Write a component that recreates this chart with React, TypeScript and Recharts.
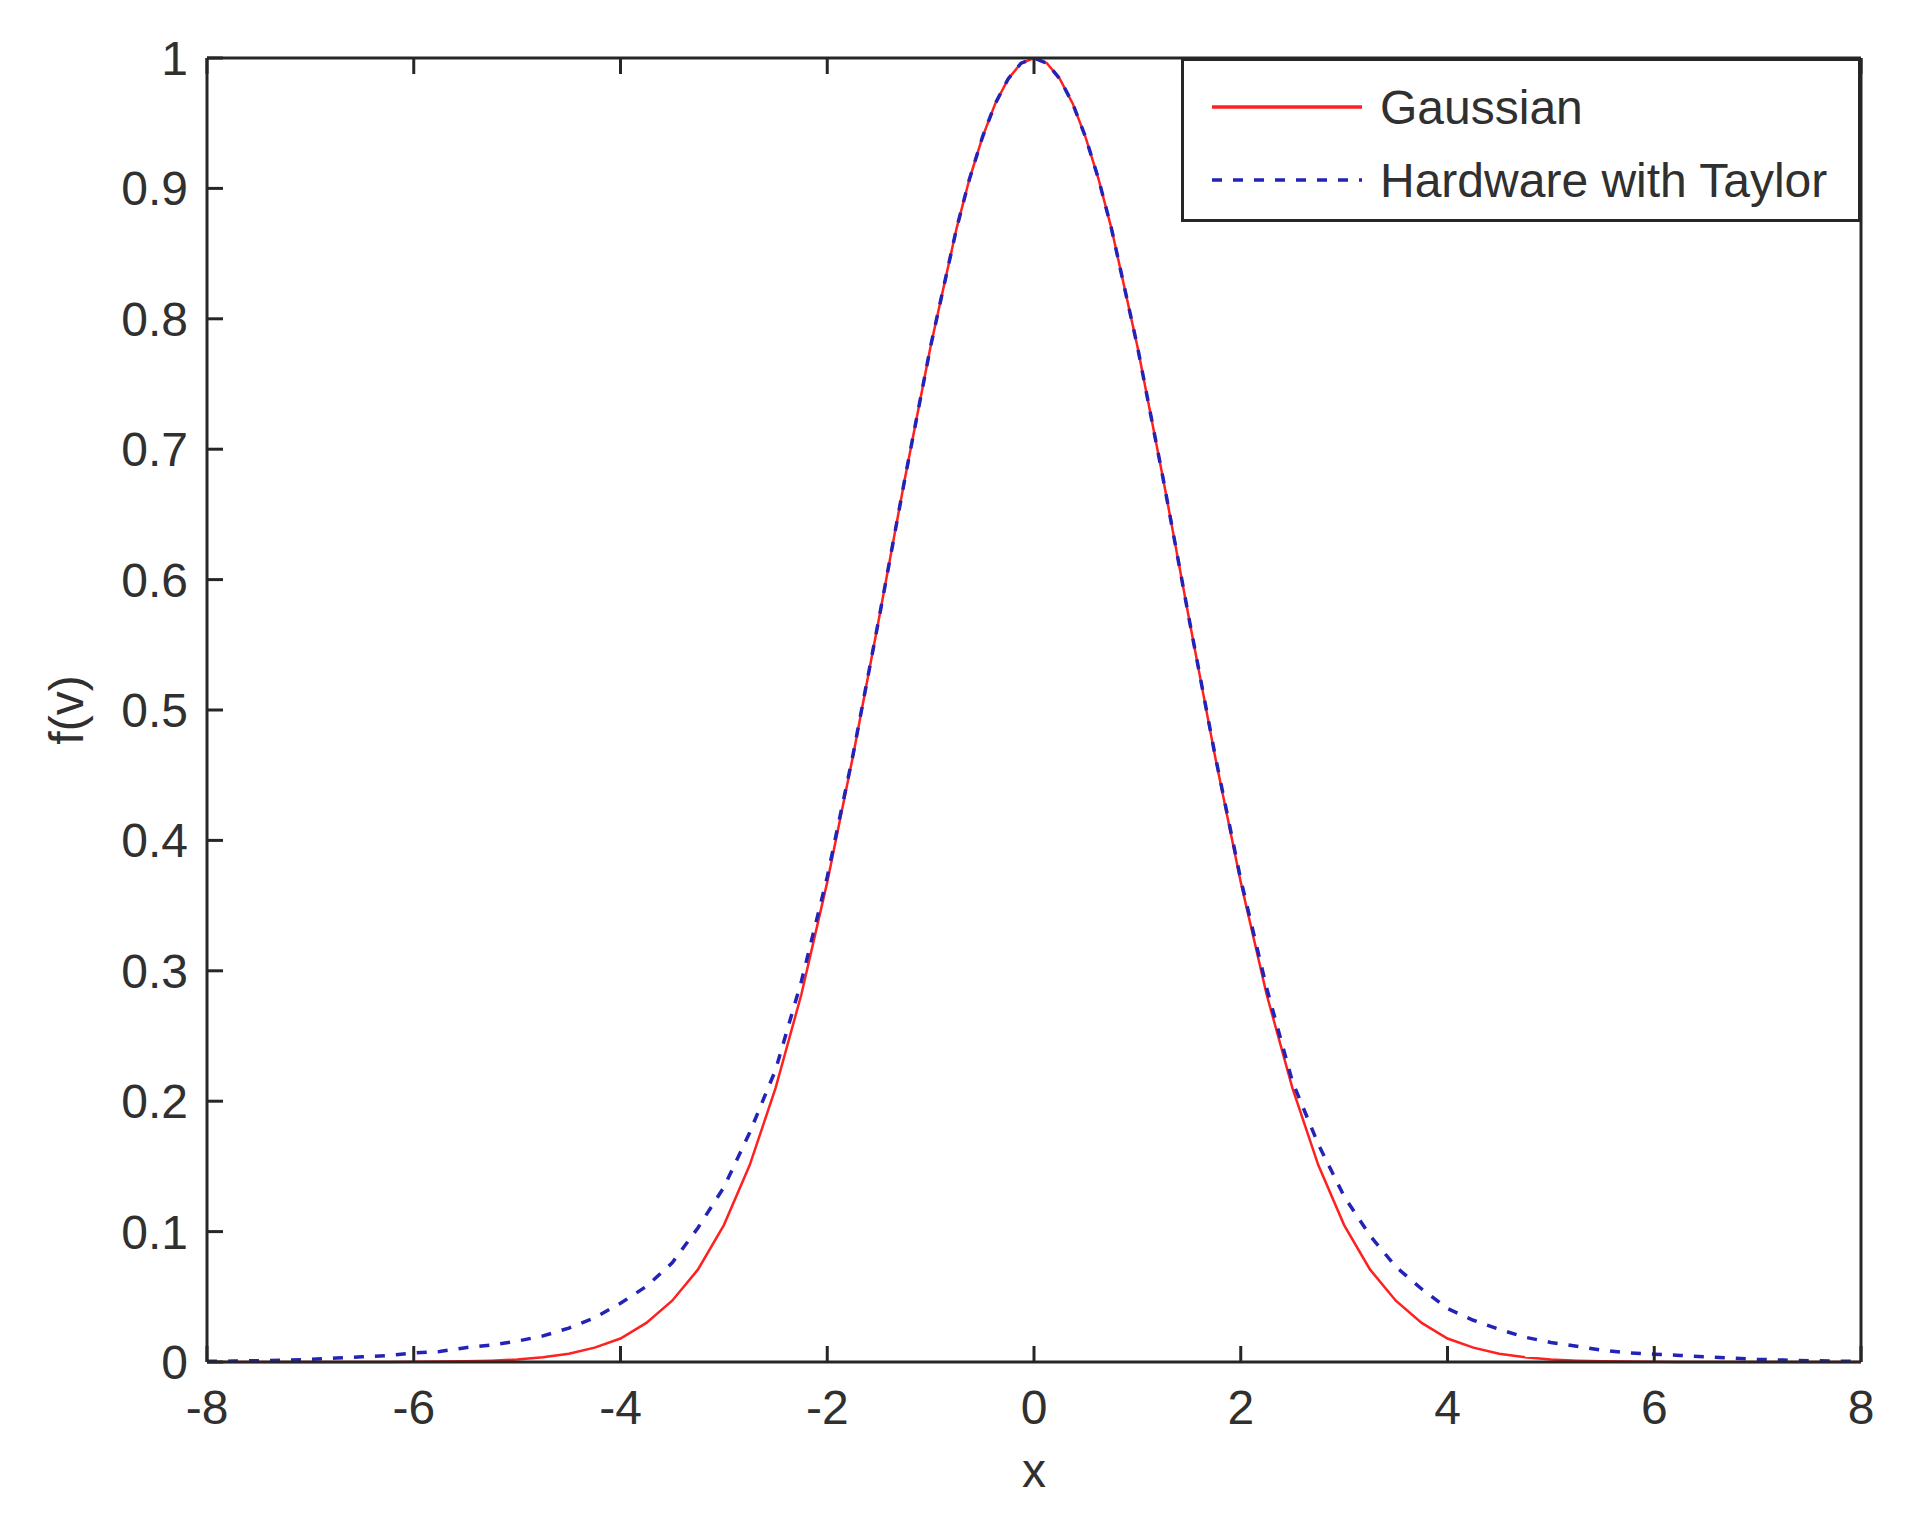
import { Legend, Line, LineChart, XAxis, YAxis } from "recharts";

const xs = [
  -8, -7.75, -7.5, -7.25, -7, -6.75, -6.5, -6.25, -6, -5.75, -5.5, -5.25, -5, -4.75, -4.5, -4.25,
  -4, -3.75, -3.5, -3.25, -3, -2.75, -2.5, -2.25, -2, -1.75, -1.5, -1.25, -1, -0.75, -0.625, -0.5,
  -0.375, -0.25, -0.125,
  0,
  0.125, 0.25, 0.375,
  0.5, 0.625, 0.75, 1, 1.25, 1.5, 1.75, 2, 2.25, 2.5, 2.75, 3, 3.25, 3.5, 3.75,
  4, 4.25, 4.5, 4.75, 5, 5.25, 5.5, 5.75, 6, 6.25, 6.5, 6.75, 7, 7.25, 7.5, 7.75, 8,
];

const gaussian = [
  0, 0, 0, 0, 0, 0, 0, 0, 0.0001, 0.0003, 0.0005, 0.001, 0.0019, 0.0036, 0.0063, 0.011,
  0.018, 0.03, 0.047, 0.071, 0.105, 0.151, 0.21, 0.282, 0.368, 0.465, 0.57, 0.677, 0.779, 0.869, 0.907, 0.939,
  0.965, 0.984, 0.996,
  1,
  0.996, 0.984, 0.965,
  0.939, 0.907, 0.869, 0.779, 0.677, 0.57, 0.465, 0.368, 0.282, 0.21, 0.151, 0.105, 0.071, 0.047, 0.03,
  0.018, 0.011, 0.0063, 0.0036, 0.0019, 0.001, 0.0005, 0.0003, 0.0001, 0, 0, 0, 0, 0, 0, 0, 0,
];

const taylor = [
  0.0005, 0.0007, 0.001, 0.0015, 0.002, 0.003, 0.004, 0.005, 0.007, 0.008, 0.011, 0.013, 0.016, 0.02, 0.026, 0.034,
  0.045, 0.058, 0.076, 0.103, 0.134, 0.176, 0.224, 0.292, 0.372, 0.466, 0.57, 0.677, 0.779, 0.869, 0.907, 0.939,
  0.965, 0.984, 0.996,
  1,
  0.996, 0.984, 0.965,
  0.939, 0.907, 0.869, 0.779, 0.677, 0.57, 0.466, 0.37, 0.287, 0.215, 0.167, 0.127, 0.097, 0.073, 0.056,
  0.041, 0.032, 0.025, 0.019, 0.015, 0.012, 0.009, 0.007, 0.006, 0.005, 0.004, 0.003, 0.002, 0.0015, 0.001, 0.0007, 0.0005,
];

const xTicks = [-8, -6, -4, -2, 0, 2, 4, 6, 8];
const yTicks = [0, 0.1, 0.2, 0.3, 0.4, 0.5, 0.6, 0.7, 0.8, 0.9, 1];

const rows = xs.map((x, i) => ({ x, gaussian: gaussian[i], taylor: taylor[i] }));

const FONT = '"Liberation Sans", Arial, sans-serif';
const AXIS = "#262626";
const TEXT = "#303030";
const RED = "#ff2020";
const BLUE = "#2323b8";
const TICK = 16;
const AXIS_W = 3;

function BottomTick({ x, y, payload }: any) {
  return (
    <g>
      <line x1={x} y1={y} x2={x} y2={y - TICK} stroke={AXIS} strokeWidth={AXIS_W} />
      <text x={x} y={y + 62} textAnchor="middle" fill={TEXT} fontSize={48} fontFamily={FONT}>
        {payload.value}
      </text>
    </g>
  );
}

function TopTick({ x, y }: any) {
  return <line x1={x} y1={y} x2={x} y2={y + TICK} stroke={AXIS} strokeWidth={AXIS_W} />;
}

function LeftTick({ x, y, payload }: any) {
  return (
    <g>
      <line x1={x} y1={y} x2={x + TICK} y2={y} stroke={AXIS} strokeWidth={AXIS_W} />
      <text x={x - 19} y={y + 17} textAnchor="end" fill={TEXT} fontSize={48} fontFamily={FONT}>
        {payload.value}
      </text>
    </g>
  );
}

function RightTick({ x, y }: any) {
  return <line x1={x} y1={y} x2={x - TICK} y2={y} stroke={AXIS} strokeWidth={AXIS_W} />;
}

function XTitle({ viewBox }: any) {
  return (
    <text x={viewBox.x + viewBox.width / 2} y={viewBox.y + 125} textAnchor="middle" fill={TEXT} fontSize={48} fontFamily={FONT}>
      x
    </text>
  );
}

function YTitle({ viewBox }: any) {
  const cx = viewBox.x + 66;
  const cy = viewBox.y + viewBox.height / 2;
  return (
    <text
      transform={`translate(${cx}, ${cy}) rotate(-90)`}
      textAnchor="middle"
      dominantBaseline="central"
      fill={TEXT}
      fontSize={48}
      fontFamily={FONT}
    >
      f(v)
    </text>
  );
}

function LegendBox(props: any) {
  const items = props.payload ?? [];
  return (
    <svg width={680} height={164} style={{ display: "block", background: "#fff" }}>
      <rect x={1.5} y={1.5} width={677} height={161} fill="#fff" stroke={AXIS} strokeWidth={AXIS_W} />
      {items.map((item: any, i: number) => {
        const cy = 49 + i * 73;
        return (
          <g key={item.value}>
            <line
              x1={31}
              x2={181}
              y1={cy}
              y2={cy}
              stroke={item.color}
              strokeWidth={item.payload?.strokeDasharray ? 3.5 : 3.5}
              strokeDasharray={item.payload?.strokeDasharray}
            />
            <text x={199} y={cy} dominantBaseline="central" fill={TEXT} fontSize={48} fontFamily={FONT}>
              {item.value}
            </text>
          </g>
        );
      })}
    </svg>
  );
}

export default function App() {
  return (
    <div style={{ position: "absolute", left: 0, top: 0, width: 1910, height: 1520, background: "#fff" }}>
      <LineChart width={1910} height={1520} data={rows} margin={{ top: 0, right: 0, bottom: 0, left: 0 }}>
        <XAxis
          dataKey="x"
          type="number"
          domain={[-8, 8]}
          ticks={xTicks}
          height={158}
          tickSize={0}
          tickMargin={0}
          tick={<BottomTick />}
          axisLine={{ stroke: AXIS, strokeWidth: AXIS_W }}
          label={<XTitle />}
        />
        <XAxis
          xAxisId="top"
          orientation="top"
          dataKey="x"
          type="number"
          domain={[-8, 8]}
          ticks={xTicks}
          height={58}
          tickSize={0}
          tickMargin={0}
          tick={<TopTick />}
          axisLine={{ stroke: AXIS, strokeWidth: AXIS_W }}
        />
        <YAxis
          type="number"
          domain={[0, 1]}
          ticks={yTicks}
          width={207}
          tickSize={0}
          tickMargin={0}
          tick={<LeftTick />}
          axisLine={{ stroke: AXIS, strokeWidth: AXIS_W }}
          label={<YTitle />}
        />
        <YAxis
          yAxisId="right"
          orientation="right"
          type="number"
          domain={[0, 1]}
          ticks={yTicks}
          width={49}
          tickSize={0}
          tickMargin={0}
          tick={<RightTick />}
          axisLine={{ stroke: AXIS, strokeWidth: AXIS_W }}
        />
        <Legend
          layout="vertical"
          align="center"
          verticalAlign="middle"
          content={<LegendBox />}
          wrapperStyle={{ left: 1181, top: 58, width: 680, height: 164 }}
        />
        <Line
          name="Gaussian"
          dataKey="gaussian"
          type="linear"
          stroke={RED}
          strokeWidth={2.5}
          dot={false}
          activeDot={false}
          isAnimationActive={false}
        />
        <Line
          name="Hardware with Taylor"
          dataKey="taylor"
          type="linear"
          stroke={BLUE}
          strokeWidth={3.5}
          strokeDasharray="10 11"
          dot={false}
          activeDot={false}
          isAnimationActive={false}
        />
      </LineChart>
    </div>
  );
}
